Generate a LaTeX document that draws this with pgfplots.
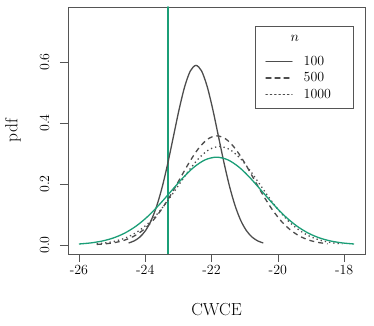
\documentclass[border=0pt]{standalone}
\usepackage{fontspec}
\usepackage{pgfplots}
\pgfplotsset{compat=1.18}
\definecolor{rgreen}{HTML}{1B9E77}
\definecolor{rgray}{HTML}{4D4D4D}
\definecolor{boxgray}{HTML}{555555}

\begin{document}
\begin{tikzpicture}
\begin{axis}[
  name=ax,
  scale only axis,
  width=297bp, height=247bp,
  xmin=-26.33, xmax=-17.37,
  ymin=-0.0296, ymax=0.7806,
  axis line style={boxgray, line width=0.6bp},
  tick align=outside,
  major tick length=8bp,
  tick style={boxgray, line width=0.6bp},
  xtick pos=bottom, ytick pos=left,
  xtick={-26,-24,-22,-20,-18},
  xticklabels={-26,-24,-22,-20,-18},
  ytick={0,0.2,0.4,0.6},
  yticklabels={0.0,0.2,0.4,0.6},
  ticklabel style={font=\fontsize{14}{16}\selectfont},
  yticklabel style={rotate=90, anchor=south},
  yticklabel shift=7bp,
  xlabel={CWCE}, ylabel={pdf},
  label style={font=\fontsize{17.5}{20}\selectfont},
  xlabel style={at={(axis description cs:0.5,0)}, anchor=center, yshift=-56bp},
  ylabel style={at={(axis description cs:-0.185,0.5)}, anchor=center},
  legend image code/.code={\draw[line width=1.3bp, line cap=round, #1] (0bp,0bp) -- (26bp,0bp);},
  legend cell align=left,
  legend style={at={(0.63,0.923)}, anchor=north west, draw=boxgray,
    line width=0.6bp, font=\fontsize{14}{16}\selectfont,
    inner xsep=10bp, inner ysep=7bp, row sep=1.5bp,
    /tikz/every odd column/.append style={column sep=9bp}},
]
\addlegendimage{empty legend}
\addlegendentry{\hspace*{-9bp}\makebox[0pt]{\raisebox{8bp}{$n$}}\hspace*{9bp}}

% true value
\addplot[color=rgreen, line width=1.5bp, line cap=round, forget plot] coordinates {(-23.32,-0.0296)(-23.32,0.7806)};

% n = 100
\addplot[draw=rgray, line width=1.3bp, smooth] coordinates {
(-24.501,0.0065)(-24.332,0.0134)(-24.1625,0.0259)(-23.993,0.0469)(-23.824,0.0797)
(-23.655,0.1274)(-23.4855,0.1912)(-23.316,0.2697)(-23.147,0.3572)(-22.978,0.4446)
(-22.8085,0.5198)(-22.639,0.5709)(-22.47,0.589)(-22.301,0.5709)(-22.1315,0.5198)
(-21.962,0.4446)(-21.793,0.3572)(-21.624,0.2697)(-21.4545,0.1912)(-21.285,0.1274)
(-21.116,0.0797)(-20.947,0.0469)(-20.7775,0.0259)(-20.608,0.0134)(-20.439,0.0065)};
\addlegendentry{100}

% n = 500
\addplot[draw=rgray, line width=1.3bp, smooth, dash pattern=on 5bp off 4bp] coordinates {
(-25.4605,0.0018)(-25.182,0.0040)(-24.9035,0.0082)(-24.625,0.0157)(-24.3465,0.0285)
(-24.068,0.0485)(-23.7895,0.0774)(-23.511,0.1162)(-23.2325,0.1639)(-22.954,0.2171)
(-22.6755,0.2702)(-22.397,0.3159)(-22.1185,0.3470)(-21.84,0.358)(-21.5615,0.3470)
(-21.283,0.3159)(-21.0045,0.2702)(-20.726,0.2171)(-20.4475,0.1639)(-20.169,0.1162)
(-19.8905,0.0774)(-19.612,0.0485)(-19.3335,0.0285)(-19.055,0.0157)(-18.7765,0.0082)
(-18.498,0.0040)};
\addlegendentry{500}

% n = 1000
\addplot[draw=rgray, line width=1.3bp, smooth, dash pattern=on 1.3bp off 3bp] coordinates {
(-25.465,0.0036)(-25.156,0.0074)(-24.8475,0.0142)(-24.539,0.0257)(-24.23,0.0437)
(-23.921,0.0699)(-23.6125,0.1049)(-23.304,0.1479)(-22.995,0.1959)(-22.686,0.2438)
(-22.3775,0.2850)(-22.069,0.3131)(-21.76,0.323)(-21.451,0.3131)(-21.1425,0.2850)
(-20.834,0.2438)(-20.525,0.1959)(-20.216,0.1479)(-19.9075,0.1049)(-19.599,0.0699)
(-19.29,0.0437)(-18.981,0.0257)(-18.6725,0.0142)(-18.364,0.0074)(-18.055,0.0036)};
\addlegendentry{1000\hspace*{10bp}}

% asymptotic density
\addplot[draw=rgreen, line width=1.3bp, smooth, forget plot] coordinates {
(-25.999,0.0032)(-25.653,0.0066)(-25.3075,0.0127)(-24.962,0.0229)(-24.616,0.0390)
(-24.270,0.0623)(-23.9245,0.0935)(-23.579,0.1319)(-23.233,0.1747)(-22.887,0.2174)
(-22.5415,0.2542)(-22.196,0.2791)(-21.85,0.288)(-21.504,0.2791)(-21.1585,0.2542)
(-20.813,0.2174)(-20.467,0.1747)(-20.121,0.1319)(-19.7755,0.0935)(-19.430,0.0623)
(-19.084,0.0390)(-18.738,0.0229)(-18.3925,0.0127)(-18.047,0.0066)(-17.701,0.0032)};
\end{axis}
\pgfresetboundingbox
\path[use as bounding box] (ax.south west) ++(-68bp,-72bp) rectangle ([shift={(9bp,7bp)}]ax.north east);
\end{tikzpicture}
\end{document}
